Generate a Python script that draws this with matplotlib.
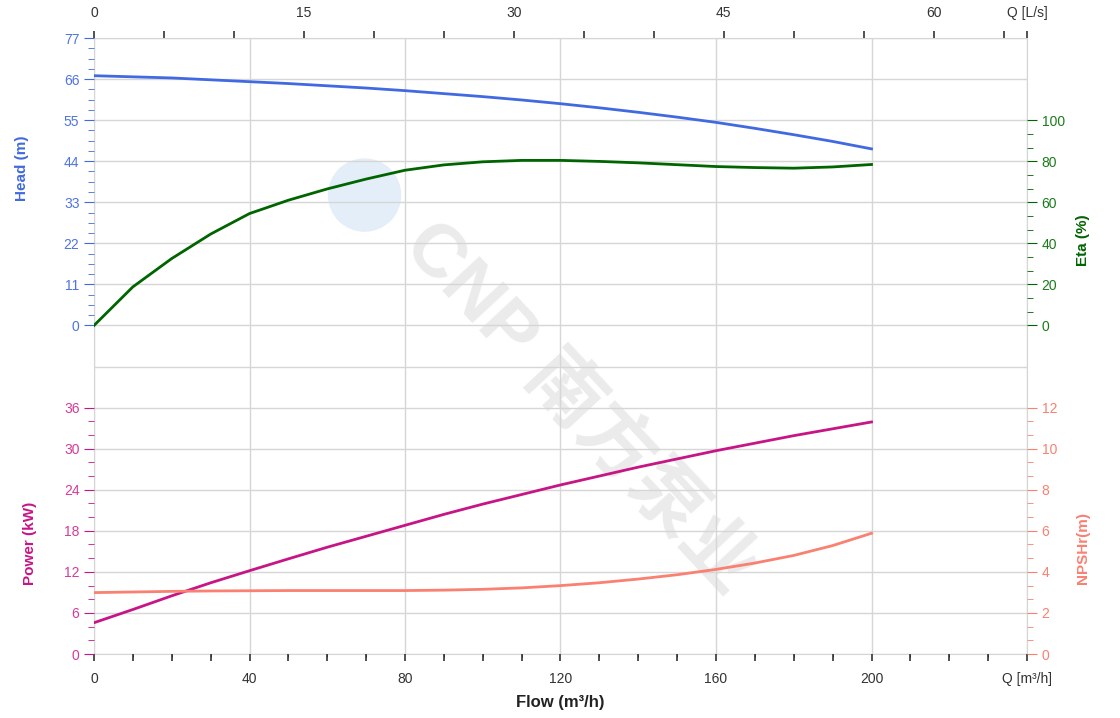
import numpy as np
import matplotlib
matplotlib.use("Agg")
import matplotlib.pyplot as plt
from matplotlib.patches import Ellipse

plt.rcParams['font.family'] = ['Liberation Sans', 'Noto Sans CJK SC', 'DejaVu Sans']

# curve data (Q in m3/h)
q = [0, 10, 20, 30, 40, 50, 60, 70, 80, 90, 100, 110, 120, 130, 140, 150, 160, 170, 180, 190, 200]
head = [66.9, 66.6, 66.3, 65.8, 65.3, 64.8, 64.2, 63.6, 62.9, 62.1, 61.3, 60.4, 59.4, 58.3, 57.1, 55.8, 54.4, 52.8, 51.1, 49.3, 47.3]
eta = [0, 18.8, 32.6, 44.5, 54.5, 61.0, 66.5, 71.3, 75.6, 78.2, 79.7, 80.4, 80.4, 79.9, 79.2, 78.3, 77.4, 76.9, 76.6, 77.2, 78.4]
power = [4.57, 6.5, 8.5, 10.4, 12.17, 13.9, 15.6, 17.2, 18.8, 20.4, 21.9, 23.3, 24.7, 26.0, 27.3, 28.5, 29.7, 30.8, 31.9, 32.9, 33.9]
npsh = [2.99, 3.02, 3.05, 3.07, 3.08, 3.09, 3.09, 3.09, 3.09, 3.11, 3.15, 3.22, 3.33, 3.47, 3.65, 3.86, 4.12, 4.43, 4.8, 5.28, 5.88]

head_ticks = [0, 11, 22, 33, 44, 55, 66, 77]
eta_ticks = [0, 20, 40, 60, 80, 100]
power_ticks = [0, 6, 12, 18, 24, 30, 36]
npsh_ticks = [0, 2, 4, 6, 8, 10, 12]
q_ticks = [0, 40, 80, 120, 160, 200]
qls_ticks = [0, 15, 30, 45, 60]

c_head, c_head_t = '#4169E1', '#4f73e3'
c_eta, c_eta_t = '#006400', '#1b7b1b'
c_pow, c_pow_t = '#C71585', '#d63a98'
c_npsh = '#FA8072'
grid_c = '#d6d6d6'

fig = plt.figure(figsize=(11.2, 7.18), dpi=100)
rect = [94 / 1120, 64 / 718, 933 / 1120, 616 / 718]

# background grid axis (15 equal bands)
ax_g = fig.add_axes(rect)
ax_g.set_xlim(0, 240)
ax_g.set_ylim(0, 15)
ax_g.set_yticks(np.arange(0, 16))
ax_g.set_xticks(q_ticks + [240])
ax_g.grid(True, color=grid_c, lw=1)
ax_g.tick_params(length=0, labelleft=False, labelbottom=False)
for s in ax_g.spines.values():
    s.set_color(grid_c)

# watermark
ax_g.add_patch(Ellipse((0.29, 0.745), 72 / 933, 72 / 616, transform=ax_g.transAxes,
                       color='#e3eef8', zorder=0.5))
ax_g.text(0.52, 0.40, 'CNP 南方泵业', transform=ax_g.transAxes, rotation=-47,
          fontsize=54, fontweight='bold', color='#ebebeb', ha='center', va='center', zorder=0.5)

# head axis
ax_h = fig.add_axes(rect, sharex=ax_g)
ax_h.patch.set_visible(False)
ax_h.set_ylim(-88, 77)
ax_h.plot(q, head, color=c_head, lw=2)
ax_h.set_yticks(head_ticks)
ax_h.set_yticks(np.arange(0, 77.1, 2.75), minor=True)
ax_h.tick_params(axis='y', which='both', colors=c_head, labelcolor=c_head_t, labelsize=10)
ax_h.tick_params(axis='y', which='major', length=7)
ax_h.tick_params(axis='y', which='minor', length=4)
for s in ax_h.spines.values():
    s.set_visible(False)

# bottom x axis
ax_h.set_xticks(q_ticks + [240])
ax_h.set_xticklabels([str(v) for v in q_ticks] + ['Q [m³/h]'])
ax_h.set_xticks(np.arange(0, 241, 10), minor=True)
ax_h.tick_params(axis='x', which='both', length=5, width=1.2, color='#333333', labelsize=10, labelcolor='#333333', pad=8)

# top x axis in L/s
top = ax_h.secondary_xaxis('top', functions=(lambda x: x / 3.6, lambda x: x * 3.6))
top.set_xticks(qls_ticks + [240 / 3.6])
top.set_xticklabels([str(v) for v in qls_ticks] + ['Q [L/s]'])
top.set_xticks(np.arange(0, 66, 5), minor=True)
top.tick_params(which='both', length=5, width=1.2, color='#333333', labelsize=10, labelcolor='#333333', pad=8)
top.spines['top'].set_visible(False)

# eta axis
ax_e = ax_h.twinx()
ax_e.set_ylim(-160, 140)
ax_e.plot(q, eta, color=c_eta, lw=2)
ax_e.set_yticks(eta_ticks)
ax_e.set_yticks(np.arange(0, 100.1, 20 / 3), minor=True)
ax_e.tick_params(axis='y', which='both', colors=c_eta, labelcolor=c_eta_t, labelsize=10)
ax_e.tick_params(axis='y', which='major', length=7)
ax_e.tick_params(axis='y', which='minor', length=4)
for s in ax_e.spines.values():
    s.set_visible(False)

# power axis
ax_p = fig.add_axes(rect, sharex=ax_g)
ax_p.patch.set_visible(False)
ax_p.set_ylim(0, 90)
ax_p.plot(q, power, color=c_pow, lw=2)
ax_p.set_yticks(power_ticks)
ax_p.set_yticks(np.arange(0, 36.1, 2), minor=True)
ax_p.tick_params(axis='y', which='both', colors=c_pow, labelcolor=c_pow_t, labelsize=10)
ax_p.tick_params(axis='y', which='major', length=7)
ax_p.tick_params(axis='y', which='minor', length=4)
ax_p.tick_params(axis='x', which='both', length=0, labelbottom=False)
for s in ax_p.spines.values():
    s.set_visible(False)

# npsh axis
ax_n = ax_p.twinx()
ax_n.set_ylim(0, 30)
ax_n.plot(q, npsh, color=c_npsh, lw=2)
ax_n.set_yticks(npsh_ticks)
ax_n.set_yticks(np.arange(0, 12.1, 2 / 3), minor=True)
ax_n.tick_params(axis='y', which='both', colors=c_npsh, labelcolor=c_npsh, labelsize=10)
ax_n.tick_params(axis='y', which='major', length=7)
ax_n.tick_params(axis='y', which='minor', length=4)
for s in ax_n.spines.values():
    s.set_visible(False)

# axis titles
fig.text(22 / 1120, 1 - 168 / 718, 'Head (m)', rotation=90, color=c_head, fontsize=11,
         fontweight='bold', ha='center', va='center')
fig.text(30 / 1120, 1 - 543 / 718, 'Power (kW)', rotation=90, color=c_pow, fontsize=11,
         fontweight='bold', ha='center', va='center')
fig.text(1083 / 1120, 1 - 240 / 718, 'Eta (%)', rotation=90, color=c_eta, fontsize=11,
         fontweight='bold', ha='center', va='center')
fig.text(1083 / 1120, 1 - 548 / 718, 'NPSHr(m)', rotation=90, color=c_npsh, fontsize=11,
         fontweight='bold', ha='center', va='center')
fig.text(560 / 1120, 1 - 702 / 718, 'Flow (m³/h)', color='#222222', fontsize=12,
         fontweight='bold', ha='center', va='center')

fig.savefig('out.png', dpi=100)
